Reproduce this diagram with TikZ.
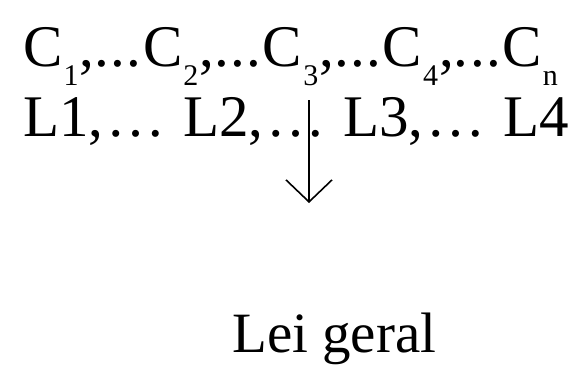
\documentclass[tikz,border=0pt]{standalone}
\usepackage{fontspec}
\setmainfont{Liberation Serif}
\usetikzlibrary{arrows.meta, positioning}
\newcommand{\idx}[1]{\kern1pt\raisebox{-19pt}{\fontsize{30}{30}\selectfont #1}\kern1pt}
\newcommand{\pts}{.\kern1.5pt.\kern1.5pt.\kern1.5pt}
\newcommand{\etc}{\kern3pt…\kern3pt}

\begin{document}
\begin{tikzpicture}[x=1pt, y=1pt, >={Straight Barb[length=22pt, width=46pt]},
  big/.style={inner sep=0pt, anchor=base west, font=\fontsize{59}{70}\selectfont}]
\useasboundingbox (0,0) rectangle (577,365);
% condições
\node[big] (cond) at (23,299) {C\idx{1},\pts C\idx{2},\pts C\idx{3},\pts C\idx{4},\pts C\idx{n}};
% leis
\node[big] (leis) at (23,229) {L1,\etc{} L2,\etc{} L3,\etc{} L4};
% seta
\coordinate (ini) at (309,265);
\coordinate (fim) at (309,162);
\draw[->, line width=1.6pt] (ini) -- (fim);
% lei geral
\node[big, font=\fontsize{57}{68}\selectfont] (lei) at (232,13) {Lei geral};
\end{tikzpicture}
\end{document}
